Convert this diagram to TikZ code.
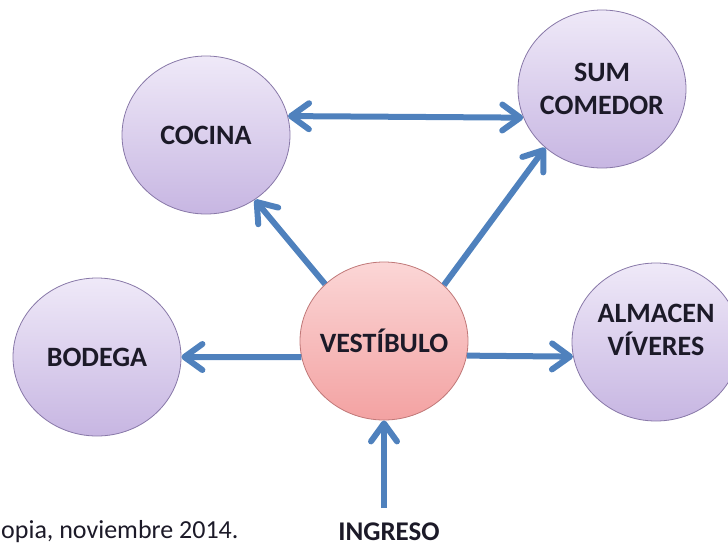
\documentclass[tikz,border=0pt]{standalone}
\usepackage{fontspec}
\setmainfont{Carlito}
\usetikzlibrary{shapes.geometric,arrows.meta}
\definecolor{arrowblue}{RGB}{79,129,189}
\definecolor{lavtop}{HTML}{EFE9F8}
\definecolor{lavbot}{HTML}{C7B6E2}
\definecolor{lavline}{HTML}{8878A8}
\definecolor{pinktop}{HTML}{FBD6D6}
\definecolor{pinkbot}{HTML}{F3A2A2}
\definecolor{pinkline}{HTML}{C07878}
\definecolor{textdark}{HTML}{1C1A28}
\begin{document}
\begin{tikzpicture}[x=1pt,y=-1pt,
  room/.style={ellipse, draw=lavline, line width=0.8pt, top color=lavtop, bottom color=lavbot,
    minimum width=168pt, minimum height=158pt, inner xsep=-20pt, inner ysep=0pt, align=center,
    font=\bfseries\fontsize{28}{33}\selectfont, text=textdark},
  hall/.style={room, draw=pinkline, top color=pinktop, bottom color=pinkbot},
  flow/.style={draw=arrowblue, line width=6pt},
  >={Straight Barb[length=18pt,width=26pt,round]},
]
\useasboundingbox (0,0) rectangle (728,546);
\node[room] (cocina) at (206,135) {COCINA};
\node[room] (sum) at (602,89) {SUM\\COMEDOR};
\node[room] (bodega) at (97,357) {BODEGA};
\node[hall] (vest) at (384,341) {VESTÍBULO};
\node[room, text depth=24pt] (almacen) at (656,342) {ALMACEN\\VÍVERES};
\node[font=\fontsize{26}{30}\selectfont, text=textdark, anchor=base west, inner sep=0pt] (fuente) at (1,538) {opia, noviembre 2014.};
\node[font=\bfseries\fontsize{27}{30}\selectfont, text=textdark, anchor=base, inner sep=0pt] (ingreso) at (389,540) {INGRESO};
\draw[flow,<->] (cocina.13) -- (sum.200);
\draw[flow,->] (vest.136) -- (cocina.307);
\draw[flow,->] (vest.43) -- (sum.226);
\draw[flow,->] (vest.191) -- (bodega.east);
\draw[flow,->] (vest.350) -- (almacen.190);
\draw[flow,->] ([yshift=14pt]ingreso.north -| vest.south) -- (vest.south);
\end{tikzpicture}
\end{document}
